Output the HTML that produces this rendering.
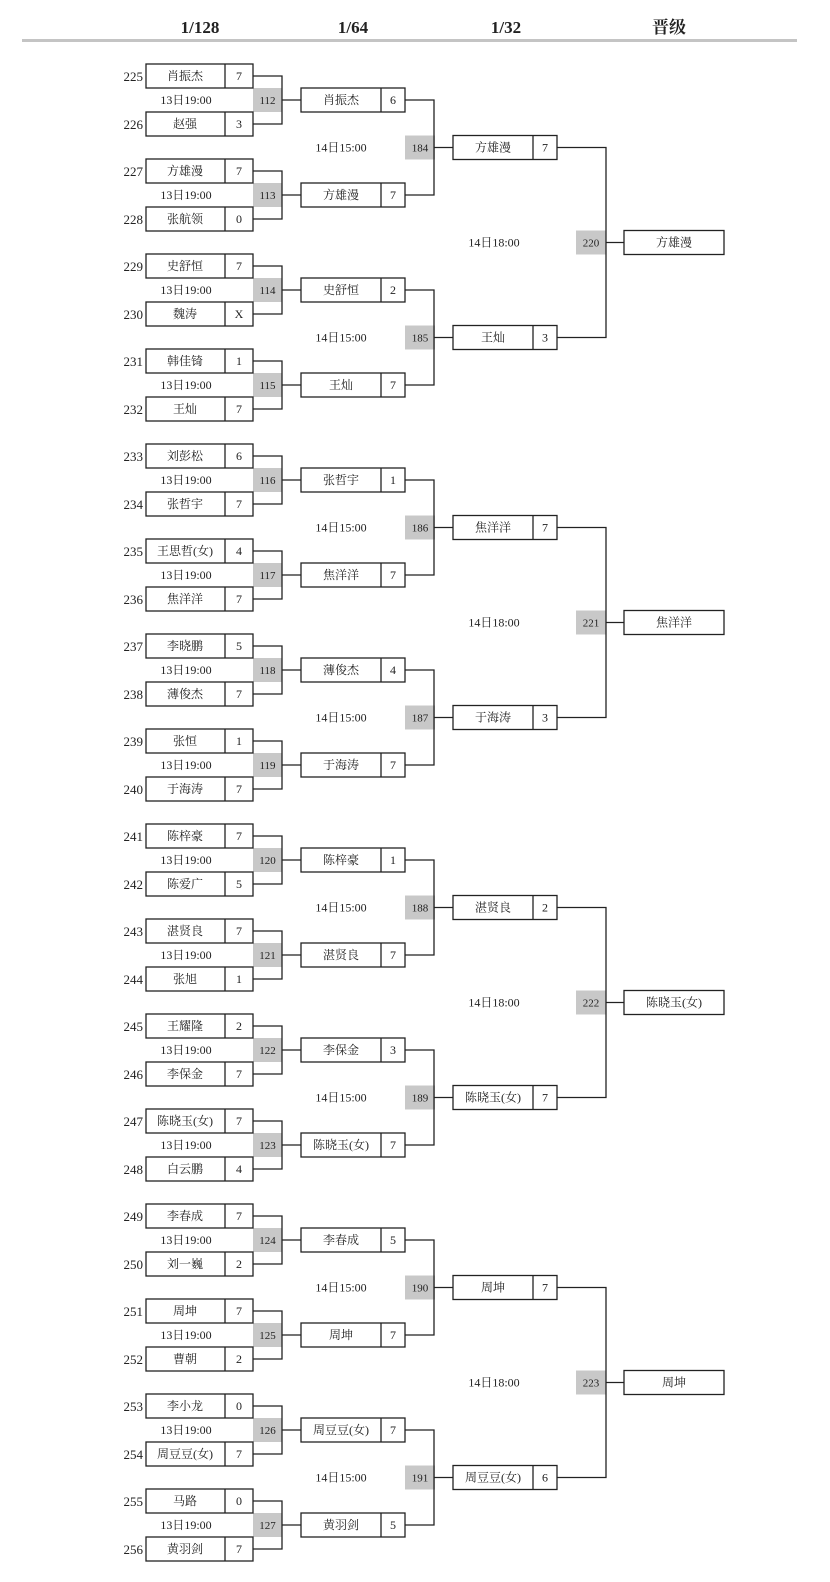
<!DOCTYPE html>
<html><head><meta charset="utf-8"><style>
html,body{margin:0;padding:0;background:#fff}
svg{display:block}
text{font-family:"Liberation Serif","Noto Serif CJK SC",serif;font-size:12px;text-anchor:middle;fill:#222}
.e{text-anchor:end;font-size:13px}
.s{font-size:11px}
.h{font-size:17px;font-weight:bold}
rect{fill:#fff;stroke:#222;stroke-width:1.3}
rect.g{fill:#c8c8c8;stroke:none}
line,path{stroke:#222;stroke-width:1.3;fill:none}
</style></head><body>
<svg width="830" height="1582" viewBox="0 0 830 1582" xmlns="http://www.w3.org/2000/svg">
<text x="200" y="33" class="h">1/128</text>
<text x="353" y="33" class="h">1/64</text>
<text x="506" y="33" class="h">1/32</text>
<text x="669" y="33" class="h">晋级</text>
<line x1="22" y1="40.5" x2="797" y2="40.5" style="stroke:#c4c4c4;stroke-width:3"/>

<!-- R1 matches -->
<g transform="translate(0,100)"><rect class="g" x="253" y="-12" width="29" height="24"/><text x="267.5" y="4" class="s">112</text><rect x="146" y="-36" width="107" height="24"/><line x1="225" y1="-36" x2="225" y2="-12"/><rect x="146" y="12" width="107" height="24"/><line x1="225" y1="12" x2="225" y2="36"/><path d="M253 -24H282V24H253M282 0H301"/><text x="143" y="-19" class="e">225</text><text x="185" y="-20">肖振杰</text><text x="239" y="-20">7</text><text x="186" y="4">13日19:00</text><text x="143" y="29" class="e">226</text><text x="185" y="28">赵强</text><text x="239" y="28">3</text><rect x="301" y="-12" width="104" height="24"/><line x1="381" y1="-12" x2="381" y2="12"/><text x="341" y="4">肖振杰</text><text x="393" y="4">6</text></g>
<g transform="translate(0,195)"><rect class="g" x="253" y="-12" width="29" height="24"/><text x="267.5" y="4" class="s">113</text><rect x="146" y="-36" width="107" height="24"/><line x1="225" y1="-36" x2="225" y2="-12"/><rect x="146" y="12" width="107" height="24"/><line x1="225" y1="12" x2="225" y2="36"/><path d="M253 -24H282V24H253M282 0H301"/><text x="143" y="-19" class="e">227</text><text x="185" y="-20">方雄漫</text><text x="239" y="-20">7</text><text x="186" y="4">13日19:00</text><text x="143" y="29" class="e">228</text><text x="185" y="28">张航领</text><text x="239" y="28">0</text><rect x="301" y="-12" width="104" height="24"/><line x1="381" y1="-12" x2="381" y2="12"/><text x="341" y="4">方雄漫</text><text x="393" y="4">7</text></g>
<g transform="translate(0,290)"><rect class="g" x="253" y="-12" width="29" height="24"/><text x="267.5" y="4" class="s">114</text><rect x="146" y="-36" width="107" height="24"/><line x1="225" y1="-36" x2="225" y2="-12"/><rect x="146" y="12" width="107" height="24"/><line x1="225" y1="12" x2="225" y2="36"/><path d="M253 -24H282V24H253M282 0H301"/><text x="143" y="-19" class="e">229</text><text x="185" y="-20">史舒恒</text><text x="239" y="-20">7</text><text x="186" y="4">13日19:00</text><text x="143" y="29" class="e">230</text><text x="185" y="28">魏涛</text><text x="239" y="28">X</text><rect x="301" y="-12" width="104" height="24"/><line x1="381" y1="-12" x2="381" y2="12"/><text x="341" y="4">史舒恒</text><text x="393" y="4">2</text></g>
<g transform="translate(0,385)"><rect class="g" x="253" y="-12" width="29" height="24"/><text x="267.5" y="4" class="s">115</text><rect x="146" y="-36" width="107" height="24"/><line x1="225" y1="-36" x2="225" y2="-12"/><rect x="146" y="12" width="107" height="24"/><line x1="225" y1="12" x2="225" y2="36"/><path d="M253 -24H282V24H253M282 0H301"/><text x="143" y="-19" class="e">231</text><text x="185" y="-20">韩佳锜</text><text x="239" y="-20">1</text><text x="186" y="4">13日19:00</text><text x="143" y="29" class="e">232</text><text x="185" y="28">王灿</text><text x="239" y="28">7</text><rect x="301" y="-12" width="104" height="24"/><line x1="381" y1="-12" x2="381" y2="12"/><text x="341" y="4">王灿</text><text x="393" y="4">7</text></g>
<g transform="translate(0,480)"><rect class="g" x="253" y="-12" width="29" height="24"/><text x="267.5" y="4" class="s">116</text><rect x="146" y="-36" width="107" height="24"/><line x1="225" y1="-36" x2="225" y2="-12"/><rect x="146" y="12" width="107" height="24"/><line x1="225" y1="12" x2="225" y2="36"/><path d="M253 -24H282V24H253M282 0H301"/><text x="143" y="-19" class="e">233</text><text x="185" y="-20">刘彭松</text><text x="239" y="-20">6</text><text x="186" y="4">13日19:00</text><text x="143" y="29" class="e">234</text><text x="185" y="28">张哲宇</text><text x="239" y="28">7</text><rect x="301" y="-12" width="104" height="24"/><line x1="381" y1="-12" x2="381" y2="12"/><text x="341" y="4">张哲宇</text><text x="393" y="4">1</text></g>
<g transform="translate(0,575)"><rect class="g" x="253" y="-12" width="29" height="24"/><text x="267.5" y="4" class="s">117</text><rect x="146" y="-36" width="107" height="24"/><line x1="225" y1="-36" x2="225" y2="-12"/><rect x="146" y="12" width="107" height="24"/><line x1="225" y1="12" x2="225" y2="36"/><path d="M253 -24H282V24H253M282 0H301"/><text x="143" y="-19" class="e">235</text><text x="185" y="-20">王思哲(女)</text><text x="239" y="-20">4</text><text x="186" y="4">13日19:00</text><text x="143" y="29" class="e">236</text><text x="185" y="28">焦洋洋</text><text x="239" y="28">7</text><rect x="301" y="-12" width="104" height="24"/><line x1="381" y1="-12" x2="381" y2="12"/><text x="341" y="4">焦洋洋</text><text x="393" y="4">7</text></g>
<g transform="translate(0,670)"><rect class="g" x="253" y="-12" width="29" height="24"/><text x="267.5" y="4" class="s">118</text><rect x="146" y="-36" width="107" height="24"/><line x1="225" y1="-36" x2="225" y2="-12"/><rect x="146" y="12" width="107" height="24"/><line x1="225" y1="12" x2="225" y2="36"/><path d="M253 -24H282V24H253M282 0H301"/><text x="143" y="-19" class="e">237</text><text x="185" y="-20">李晓鹏</text><text x="239" y="-20">5</text><text x="186" y="4">13日19:00</text><text x="143" y="29" class="e">238</text><text x="185" y="28">薄俊杰</text><text x="239" y="28">7</text><rect x="301" y="-12" width="104" height="24"/><line x1="381" y1="-12" x2="381" y2="12"/><text x="341" y="4">薄俊杰</text><text x="393" y="4">4</text></g>
<g transform="translate(0,765)"><rect class="g" x="253" y="-12" width="29" height="24"/><text x="267.5" y="4" class="s">119</text><rect x="146" y="-36" width="107" height="24"/><line x1="225" y1="-36" x2="225" y2="-12"/><rect x="146" y="12" width="107" height="24"/><line x1="225" y1="12" x2="225" y2="36"/><path d="M253 -24H282V24H253M282 0H301"/><text x="143" y="-19" class="e">239</text><text x="185" y="-20">张恒</text><text x="239" y="-20">1</text><text x="186" y="4">13日19:00</text><text x="143" y="29" class="e">240</text><text x="185" y="28">于海涛</text><text x="239" y="28">7</text><rect x="301" y="-12" width="104" height="24"/><line x1="381" y1="-12" x2="381" y2="12"/><text x="341" y="4">于海涛</text><text x="393" y="4">7</text></g>
<g transform="translate(0,860)"><rect class="g" x="253" y="-12" width="29" height="24"/><text x="267.5" y="4" class="s">120</text><rect x="146" y="-36" width="107" height="24"/><line x1="225" y1="-36" x2="225" y2="-12"/><rect x="146" y="12" width="107" height="24"/><line x1="225" y1="12" x2="225" y2="36"/><path d="M253 -24H282V24H253M282 0H301"/><text x="143" y="-19" class="e">241</text><text x="185" y="-20">陈梓豪</text><text x="239" y="-20">7</text><text x="186" y="4">13日19:00</text><text x="143" y="29" class="e">242</text><text x="185" y="28">陈爱广</text><text x="239" y="28">5</text><rect x="301" y="-12" width="104" height="24"/><line x1="381" y1="-12" x2="381" y2="12"/><text x="341" y="4">陈梓豪</text><text x="393" y="4">1</text></g>
<g transform="translate(0,955)"><rect class="g" x="253" y="-12" width="29" height="24"/><text x="267.5" y="4" class="s">121</text><rect x="146" y="-36" width="107" height="24"/><line x1="225" y1="-36" x2="225" y2="-12"/><rect x="146" y="12" width="107" height="24"/><line x1="225" y1="12" x2="225" y2="36"/><path d="M253 -24H282V24H253M282 0H301"/><text x="143" y="-19" class="e">243</text><text x="185" y="-20">湛贤良</text><text x="239" y="-20">7</text><text x="186" y="4">13日19:00</text><text x="143" y="29" class="e">244</text><text x="185" y="28">张旭</text><text x="239" y="28">1</text><rect x="301" y="-12" width="104" height="24"/><line x1="381" y1="-12" x2="381" y2="12"/><text x="341" y="4">湛贤良</text><text x="393" y="4">7</text></g>
<g transform="translate(0,1050)"><rect class="g" x="253" y="-12" width="29" height="24"/><text x="267.5" y="4" class="s">122</text><rect x="146" y="-36" width="107" height="24"/><line x1="225" y1="-36" x2="225" y2="-12"/><rect x="146" y="12" width="107" height="24"/><line x1="225" y1="12" x2="225" y2="36"/><path d="M253 -24H282V24H253M282 0H301"/><text x="143" y="-19" class="e">245</text><text x="185" y="-20">王耀隆</text><text x="239" y="-20">2</text><text x="186" y="4">13日19:00</text><text x="143" y="29" class="e">246</text><text x="185" y="28">李保金</text><text x="239" y="28">7</text><rect x="301" y="-12" width="104" height="24"/><line x1="381" y1="-12" x2="381" y2="12"/><text x="341" y="4">李保金</text><text x="393" y="4">3</text></g>
<g transform="translate(0,1145)"><rect class="g" x="253" y="-12" width="29" height="24"/><text x="267.5" y="4" class="s">123</text><rect x="146" y="-36" width="107" height="24"/><line x1="225" y1="-36" x2="225" y2="-12"/><rect x="146" y="12" width="107" height="24"/><line x1="225" y1="12" x2="225" y2="36"/><path d="M253 -24H282V24H253M282 0H301"/><text x="143" y="-19" class="e">247</text><text x="185" y="-20">陈晓玉(女)</text><text x="239" y="-20">7</text><text x="186" y="4">13日19:00</text><text x="143" y="29" class="e">248</text><text x="185" y="28">白云鹏</text><text x="239" y="28">4</text><rect x="301" y="-12" width="104" height="24"/><line x1="381" y1="-12" x2="381" y2="12"/><text x="341" y="4">陈晓玉(女)</text><text x="393" y="4">7</text></g>
<g transform="translate(0,1240)"><rect class="g" x="253" y="-12" width="29" height="24"/><text x="267.5" y="4" class="s">124</text><rect x="146" y="-36" width="107" height="24"/><line x1="225" y1="-36" x2="225" y2="-12"/><rect x="146" y="12" width="107" height="24"/><line x1="225" y1="12" x2="225" y2="36"/><path d="M253 -24H282V24H253M282 0H301"/><text x="143" y="-19" class="e">249</text><text x="185" y="-20">李春成</text><text x="239" y="-20">7</text><text x="186" y="4">13日19:00</text><text x="143" y="29" class="e">250</text><text x="185" y="28">刘一巍</text><text x="239" y="28">2</text><rect x="301" y="-12" width="104" height="24"/><line x1="381" y1="-12" x2="381" y2="12"/><text x="341" y="4">李春成</text><text x="393" y="4">5</text></g>
<g transform="translate(0,1335)"><rect class="g" x="253" y="-12" width="29" height="24"/><text x="267.5" y="4" class="s">125</text><rect x="146" y="-36" width="107" height="24"/><line x1="225" y1="-36" x2="225" y2="-12"/><rect x="146" y="12" width="107" height="24"/><line x1="225" y1="12" x2="225" y2="36"/><path d="M253 -24H282V24H253M282 0H301"/><text x="143" y="-19" class="e">251</text><text x="185" y="-20">周坤</text><text x="239" y="-20">7</text><text x="186" y="4">13日19:00</text><text x="143" y="29" class="e">252</text><text x="185" y="28">曹朝</text><text x="239" y="28">2</text><rect x="301" y="-12" width="104" height="24"/><line x1="381" y1="-12" x2="381" y2="12"/><text x="341" y="4">周坤</text><text x="393" y="4">7</text></g>
<g transform="translate(0,1430)"><rect class="g" x="253" y="-12" width="29" height="24"/><text x="267.5" y="4" class="s">126</text><rect x="146" y="-36" width="107" height="24"/><line x1="225" y1="-36" x2="225" y2="-12"/><rect x="146" y="12" width="107" height="24"/><line x1="225" y1="12" x2="225" y2="36"/><path d="M253 -24H282V24H253M282 0H301"/><text x="143" y="-19" class="e">253</text><text x="185" y="-20">李小龙</text><text x="239" y="-20">0</text><text x="186" y="4">13日19:00</text><text x="143" y="29" class="e">254</text><text x="185" y="28">周豆豆(女)</text><text x="239" y="28">7</text><rect x="301" y="-12" width="104" height="24"/><line x1="381" y1="-12" x2="381" y2="12"/><text x="341" y="4">周豆豆(女)</text><text x="393" y="4">7</text></g>
<g transform="translate(0,1525)"><rect class="g" x="253" y="-12" width="29" height="24"/><text x="267.5" y="4" class="s">127</text><rect x="146" y="-36" width="107" height="24"/><line x1="225" y1="-36" x2="225" y2="-12"/><rect x="146" y="12" width="107" height="24"/><line x1="225" y1="12" x2="225" y2="36"/><path d="M253 -24H282V24H253M282 0H301"/><text x="143" y="-19" class="e">255</text><text x="185" y="-20">马路</text><text x="239" y="-20">0</text><text x="186" y="4">13日19:00</text><text x="143" y="29" class="e">256</text><text x="185" y="28">黄羽剑</text><text x="239" y="28">7</text><rect x="301" y="-12" width="104" height="24"/><line x1="381" y1="-12" x2="381" y2="12"/><text x="341" y="4">黄羽剑</text><text x="393" y="4">5</text></g>

<!-- R2 connectors -->
<g transform="translate(0,147.5)"><rect class="g" x="405" y="-12" width="30" height="24"/><text x="420" y="4" class="s">184</text><path d="M405 -47.5H434V47.5H405M434 0H453"/><text x="341" y="4">14日15:00</text><rect x="453" y="-12" width="104" height="24"/><line x1="533" y1="-12" x2="533" y2="12"/><text x="493" y="4">方雄漫</text><text x="545" y="4">7</text></g>
<g transform="translate(0,337.5)"><rect class="g" x="405" y="-12" width="30" height="24"/><text x="420" y="4" class="s">185</text><path d="M405 -47.5H434V47.5H405M434 0H453"/><text x="341" y="4">14日15:00</text><rect x="453" y="-12" width="104" height="24"/><line x1="533" y1="-12" x2="533" y2="12"/><text x="493" y="4">王灿</text><text x="545" y="4">3</text></g>
<g transform="translate(0,527.5)"><rect class="g" x="405" y="-12" width="30" height="24"/><text x="420" y="4" class="s">186</text><path d="M405 -47.5H434V47.5H405M434 0H453"/><text x="341" y="4">14日15:00</text><rect x="453" y="-12" width="104" height="24"/><line x1="533" y1="-12" x2="533" y2="12"/><text x="493" y="4">焦洋洋</text><text x="545" y="4">7</text></g>
<g transform="translate(0,717.5)"><rect class="g" x="405" y="-12" width="30" height="24"/><text x="420" y="4" class="s">187</text><path d="M405 -47.5H434V47.5H405M434 0H453"/><text x="341" y="4">14日15:00</text><rect x="453" y="-12" width="104" height="24"/><line x1="533" y1="-12" x2="533" y2="12"/><text x="493" y="4">于海涛</text><text x="545" y="4">3</text></g>
<g transform="translate(0,907.5)"><rect class="g" x="405" y="-12" width="30" height="24"/><text x="420" y="4" class="s">188</text><path d="M405 -47.5H434V47.5H405M434 0H453"/><text x="341" y="4">14日15:00</text><rect x="453" y="-12" width="104" height="24"/><line x1="533" y1="-12" x2="533" y2="12"/><text x="493" y="4">湛贤良</text><text x="545" y="4">2</text></g>
<g transform="translate(0,1097.5)"><rect class="g" x="405" y="-12" width="30" height="24"/><text x="420" y="4" class="s">189</text><path d="M405 -47.5H434V47.5H405M434 0H453"/><text x="341" y="4">14日15:00</text><rect x="453" y="-12" width="104" height="24"/><line x1="533" y1="-12" x2="533" y2="12"/><text x="493" y="4">陈晓玉(女)</text><text x="545" y="4">7</text></g>
<g transform="translate(0,1287.5)"><rect class="g" x="405" y="-12" width="30" height="24"/><text x="420" y="4" class="s">190</text><path d="M405 -47.5H434V47.5H405M434 0H453"/><text x="341" y="4">14日15:00</text><rect x="453" y="-12" width="104" height="24"/><line x1="533" y1="-12" x2="533" y2="12"/><text x="493" y="4">周坤</text><text x="545" y="4">7</text></g>
<g transform="translate(0,1477.5)"><rect class="g" x="405" y="-12" width="30" height="24"/><text x="420" y="4" class="s">191</text><path d="M405 -47.5H434V47.5H405M434 0H453"/><text x="341" y="4">14日15:00</text><rect x="453" y="-12" width="104" height="24"/><line x1="533" y1="-12" x2="533" y2="12"/><text x="493" y="4">周豆豆(女)</text><text x="545" y="4">6</text></g>

<!-- R3 connectors -->
<g transform="translate(0,242.5)"><rect class="g" x="576" y="-12" width="30" height="24"/><text x="591" y="4" class="s">220</text><path d="M557 -95H606V95H557M606 0H624"/><text x="494" y="4">14日18:00</text><rect x="624" y="-12" width="100" height="24"/><text x="674" y="4">方雄漫</text></g>
<g transform="translate(0,622.5)"><rect class="g" x="576" y="-12" width="30" height="24"/><text x="591" y="4" class="s">221</text><path d="M557 -95H606V95H557M606 0H624"/><text x="494" y="4">14日18:00</text><rect x="624" y="-12" width="100" height="24"/><text x="674" y="4">焦洋洋</text></g>
<g transform="translate(0,1002.5)"><rect class="g" x="576" y="-12" width="30" height="24"/><text x="591" y="4" class="s">222</text><path d="M557 -95H606V95H557M606 0H624"/><text x="494" y="4">14日18:00</text><rect x="624" y="-12" width="100" height="24"/><text x="674" y="4">陈晓玉(女)</text></g>
<g transform="translate(0,1382.5)"><rect class="g" x="576" y="-12" width="30" height="24"/><text x="591" y="4" class="s">223</text><path d="M557 -95H606V95H557M606 0H624"/><text x="494" y="4">14日18:00</text><rect x="624" y="-12" width="100" height="24"/><text x="674" y="4">周坤</text></g>
</svg>
</body></html>
